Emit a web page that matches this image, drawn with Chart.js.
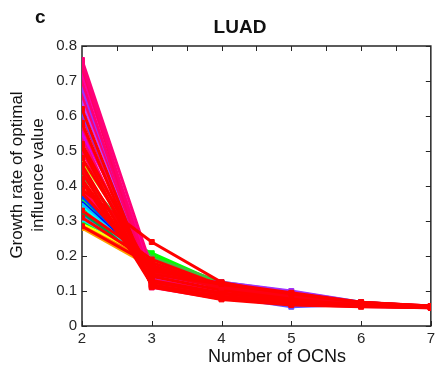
<!DOCTYPE html>
<html>
<head>
<meta charset="utf-8">
<script src="https://cdn.jsdelivr.net/npm/chart.js@4"></script>
<style>
  body { margin: 0; background: #fff; }
  #wrap { width: 439px; height: 370px; }
</style>
</head>
<body>
<div id="wrap"><canvas id="chart"></canvas></div>
<script>
// number of OCNs on the x axis
var ocnCounts = [2, 3, 4, 5, 6, 7];
var yTicks = [0, 0.1, 0.2, 0.3, 0.4, 0.5, 0.6, 0.7, 0.8];

// growth rate of optimal influence value, one row per curve
var growthRates = [
  [0.76, 0.165, 0.118, 0.090, 0.067, 0.057],
  [0.75, 0.125, 0.090, 0.070, 0.060, 0.054],
  [0.74, 0.110, 0.078, 0.062, 0.056, 0.052],
  [0.72, 0.150, 0.112, 0.088, 0.066, 0.056],
  [0.70, 0.118, 0.082, 0.066, 0.058, 0.053],
  [0.68, 0.140, 0.125, 0.100, 0.068, 0.056],
  [0.66, 0.132, 0.095, 0.075, 0.061, 0.055],
  [0.64, 0.140, 0.105, 0.082, 0.064, 0.056],
  [0.62, 0.114, 0.080, 0.064, 0.057, 0.053],
  [0.61, 0.135, 0.085, 0.055, 0.062, 0.055],
  [0.60, 0.128, 0.100, 0.080, 0.063, 0.055],
  [0.58, 0.112, 0.076, 0.060, 0.055, 0.052],
  [0.57, 0.138, 0.108, 0.085, 0.065, 0.056],
  [0.55, 0.180, 0.115, 0.090, 0.066, 0.056],
  [0.54, 0.122, 0.088, 0.072, 0.060, 0.054],
  [0.52, 0.148, 0.120, 0.092, 0.067, 0.057],
  [0.51, 0.116, 0.085, 0.068, 0.058, 0.054],
  [0.50, 0.135, 0.098, 0.078, 0.062, 0.055],
  [0.48, 0.158, 0.122, 0.095, 0.068, 0.057],
  [0.47, 0.185, 0.115, 0.090, 0.065, 0.055],
  [0.46, 0.125, 0.092, 0.074, 0.060, 0.054],
  [0.45, 0.152, 0.110, 0.086, 0.064, 0.055],
  [0.44, 0.118, 0.083, 0.066, 0.057, 0.053],
  [0.43, 0.195, 0.125, 0.098, 0.068, 0.056],
  [0.42, 0.142, 0.102, 0.080, 0.063, 0.055],
  [0.41, 0.130, 0.094, 0.075, 0.061, 0.054],
  [0.39, 0.240, 0.125, 0.085, 0.062, 0.055],
  [0.39, 0.155, 0.115, 0.088, 0.066, 0.056],
  [0.38, 0.165, 0.118, 0.092, 0.067, 0.056],
  [0.37, 0.172, 0.110, 0.085, 0.064, 0.055],
  [0.365, 0.185, 0.115, 0.088, 0.065, 0.055],
  [0.36, 0.178, 0.108, 0.082, 0.062, 0.055],
  [0.35, 0.188, 0.112, 0.087, 0.064, 0.055],
  [0.345, 0.172, 0.104, 0.082, 0.062, 0.055],
  [0.34, 0.200, 0.118, 0.090, 0.066, 0.056],
  [0.33, 0.190, 0.115, 0.088, 0.065, 0.056],
  [0.325, 0.178, 0.106, 0.083, 0.063, 0.055],
  [0.32, 0.188, 0.112, 0.090, 0.065, 0.056],
  [0.31, 0.182, 0.110, 0.085, 0.064, 0.055],
  [0.305, 0.192, 0.112, 0.086, 0.064, 0.055],
  [0.30, 0.208, 0.120, 0.092, 0.067, 0.056],
  [0.295, 0.192, 0.114, 0.088, 0.065, 0.055],
  [0.29, 0.180, 0.108, 0.083, 0.063, 0.055],
  [0.285, 0.174, 0.104, 0.081, 0.062, 0.055],
  [0.28, 0.168, 0.102, 0.078, 0.061, 0.054]
];

var lineColors = [
  '#ff0078', '#ff0070', '#ff0060', '#ff00a0', '#ff0070',
  '#a030ff', '#ff0070', '#c040ff', '#ff0000', '#6050ff',
  '#ff0070', '#ff0000', '#ff0068', '#e000e0', '#ff0070',
  '#ff0000', '#ff0000', '#ff0060', '#ff0000', '#c0ff00',
  '#ff0000', '#ff0010', '#ff0000', '#40c040', '#ff0000',
  '#ff0000', '#ff0000', '#ff0070', '#ff0000', '#0040ff',
  '#00ff40', '#0000ff', '#00c0ff', '#00ffff', '#00ff00',
  '#ff0000', '#00a040', '#0080ff', '#ff0000', '#00e0ff',
  '#00ff00', '#ffff00', '#ff8000', '#ff0000', '#ffa000'
];

// stacking: pure reds on top, everything else below
function drawOrder(col) {
  return (col === '#ff0000' || col === '#ff0010') ? 0 : 1;
}

var datasets = growthRates.map(function (row, i) {
  return {
    data: row.map(function (v, j) { return { x: ocnCounts[j], y: v }; }),
    borderColor: lineColors[i],
    backgroundColor: lineColors[i],
    borderWidth: 3,
    pointStyle: 'rect',
    pointRadius: 3.5,
    pointBorderWidth: 1,
    tension: 0,
    order: drawOrder(lineColors[i])
  };
});

var axisColor = '#262626';

var boxAxes = {
  id: 'boxAxes',
  beforeDatasetsDraw: function (chart) {
    var c = chart.ctx, a = chart.chartArea;
    var xs = chart.scales.x, ys = chart.scales.y;
    c.save();
    c.strokeStyle = axisColor;
    c.lineWidth = 1.5;
    c.strokeRect(a.left, a.top, a.right - a.left, a.bottom - a.top);
    c.lineWidth = 1;
    c.beginPath();
    ocnCounts.forEach(function (v) {
      var px = Math.round(xs.getPixelForValue(v)) + 0.5;
      c.moveTo(px, a.bottom); c.lineTo(px, a.bottom - 5);
    });
    for (var t = 2.5; t < 7; t += 0.5) {
      var px = Math.round(xs.getPixelForValue(t)) + 0.5;
      c.moveTo(px, a.top); c.lineTo(px, a.top + 5);
    }
    yTicks.forEach(function (v) {
      var py = Math.round(ys.getPixelForValue(v)) + 0.5;
      c.moveTo(a.left, py); c.lineTo(a.left + 5, py);
      c.moveTo(a.right, py); c.lineTo(a.right - 5, py);
    });
    c.stroke();
    c.restore();
  },
  afterDraw: function (chart) {
    var c = chart.ctx;
    c.save();
    c.fillStyle = '#111';
    c.font = 'bold 19px "Liberation Sans", Arial, sans-serif';
    c.textAlign = 'left';
    c.fillText('c', 35, 23);
    c.textAlign = 'center';
    c.fillText('LUAD', 240, 33);
    c.font = '18px "Liberation Sans", Arial, sans-serif';
    c.fillText('Number of OCNs', 277, 362);
    c.font = '17px "Liberation Sans", Arial, sans-serif';
    c.translate(22, 175);
    c.rotate(-Math.PI / 2);
    c.fillText('Growth rate of optimal', 0, 0);
    c.fillText('influence value', 0, 21);
    c.restore();
  }
};

var ctx = document.getElementById('chart').getContext('2d');
var chart = new Chart(ctx, {
  type: 'line',
  data: { datasets: datasets },
  options: {
    responsive: true,
    maintainAspectRatio: false,
    animation: false,
    layout: { padding: { top: 46, right: 4, left: 0, bottom: 0 } },
    plugins: { legend: { display: false }, tooltip: { enabled: false } },
    scales: {
      x: {
        type: 'linear',
        min: 2, max: 7,
        grid: { display: false, drawTicks: false },
        border: { display: false },
        ticks: { stepSize: 1, padding: 4, color: axisColor, font: { size: 15, family: '"Liberation Sans", Arial, sans-serif' } },
        afterFit: function (s) { s.height = 44; }
      },
      y: {
        min: 0, max: 0.8,
        grid: { display: false, drawTicks: false },
        border: { display: false },
        ticks: {
          stepSize: 0.1, padding: 5, color: axisColor,
          font: { size: 15, family: '"Liberation Sans", Arial, sans-serif' },
          callback: function (v) { return +v.toFixed(1); }
        },
        afterFit: function (s) { s.width = 82; }
      }
    }
  },
  plugins: [boxAxes]
});
</script>
</body>
</html>
